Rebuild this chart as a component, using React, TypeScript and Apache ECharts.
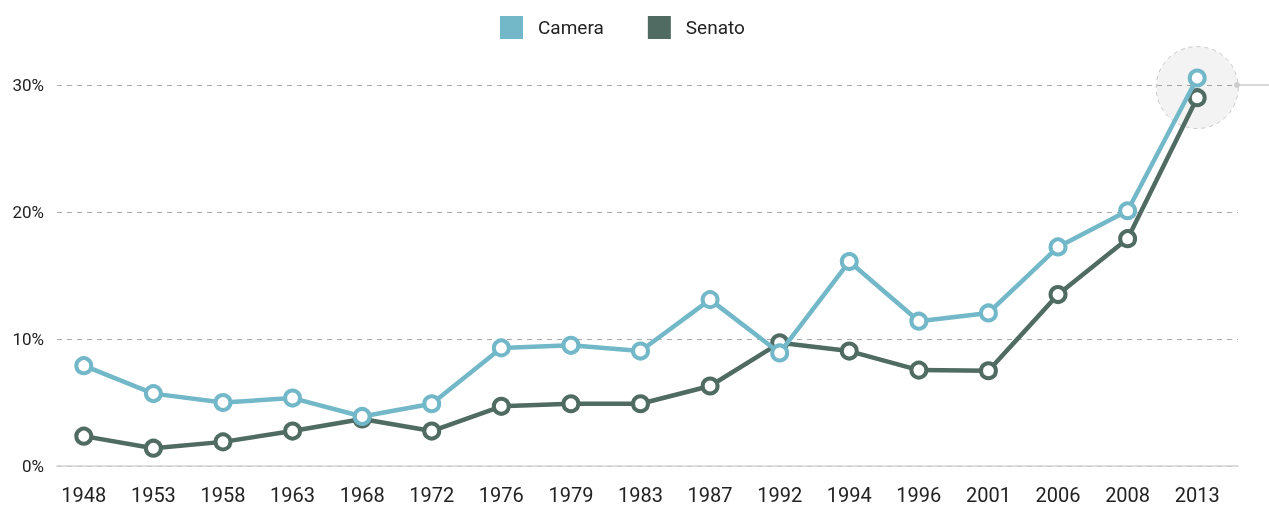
import React, { useEffect, useRef } from "react";
import * as echarts from "echarts";

const years = ["1948","1953","1958","1963","1968","1972","1976","1979","1983","1987","1992","1994","1996","2001","2006","2008","2013"];
const camera = [7.9, 5.7, 5.0, 5.35, 3.9, 4.9, 9.3, 9.5, 9.05, 13.1, 8.9, 16.1, 11.4, 12.05, 17.25, 20.1, 30.55];
const senato = [2.35, 1.4, 1.9, 2.75, 3.7, 2.75, 4.7, 4.9, 4.9, 6.3, 9.7, 9.05, 7.55, 7.5, 13.5, 17.9, 29.0];
const highlight = [["2013", 29.8]];

const FONT = "Roboto";
const CAM = "#72b8c8";
const SEN = "#4f6b62";

export default function App() {
  const ref = useRef<HTMLDivElement>(null);
  useEffect(() => {
    if (!ref.current) return;
    const chart = echarts.init(ref.current, null, { renderer: "svg" });
    chart.setOption({
      animation: false,
      textStyle: { fontFamily: FONT },
      legend: {
        top: 16,
        left: 500,
        padding: 0,
        itemWidth: 23,
        itemHeight: 23,
        itemGap: 44,
        icon: "rect",
        data: [
          { name: "Camera", itemStyle: { color: CAM, borderWidth: 0 } },
          { name: "Senato", itemStyle: { color: SEN, borderWidth: 0 } },
        ],
        textStyle: { fontSize: 19, color: "#222", fontFamily: FONT, padding: [0, 0, 0, 10] },
      },
      grid: [
        { left: 49, right: 37, top: 85, bottom: 40, outerBoundsMode: "none", containLabel: false },
        { left: 57, right: 31, top: 85, bottom: 40, outerBoundsMode: "none", containLabel: false },
      ],
      xAxis: [
        {
          type: "category",
          gridIndex: 0,
          data: years,
          boundaryGap: true,
          axisLine: { show: false },
          axisTick: { show: false },
          axisLabel: { fontSize: 20, color: "#222", margin: 19, fontFamily: FONT },
        },
        {
          type: "value",
          gridIndex: 1,
          min: 0,
          max: 1,
          axisLine: { show: true, onZero: false, lineStyle: { color: "#d4d4d4", width: 1.5 } },
          axisTick: { show: false },
          axisLabel: { show: false },
          splitLine: { show: false },
        },
      ],
      yAxis: [
        {
          type: "value",
          gridIndex: 0,
          min: 0,
          max: 30,
          interval: 10,
          axisLine: { show: false },
          axisTick: { show: false },
          axisLabel: { show: false },
          splitLine: { show: false },
        },
        {
          type: "value",
          gridIndex: 1,
          min: 0,
          max: 30,
          interval: 10,
          axisLine: { show: false },
          axisTick: { show: false },
          axisLabel: { fontSize: 17, color: "#222", formatter: "{value}%", margin: 13, fontFamily: FONT },
          splitLine: { lineStyle: { color: "#aaa", type: [5, 5], width: 1 } },
        },
      ],
      graphic: [
        { type: "line", shape: { x1: 1237, y1: 85, x2: 1269, y2: 85 }, style: { stroke: "#ccc", lineWidth: 1.5 }, z: 1 },
        { type: "circle", shape: { cx: 1237, cy: 85, r: 3 }, style: { fill: "#ccc" }, z: 1 },
      ],
      series: [
        {
          type: "scatter",
          xAxisIndex: 0,
          yAxisIndex: 0,
          data: highlight,
          symbolSize: 82,
          z: 0,
          silent: true,
          itemStyle: { color: "rgba(0,0,0,0.06)", borderColor: "#bbb", borderType: [4, 4], borderWidth: 1 },
        },
        {
          name: "Camera",
          type: "line",
          xAxisIndex: 0,
          yAxisIndex: 0,
          data: camera,
          clip: false,
          color: CAM,
          lineStyle: { width: 4.5, color: CAM },
          symbol: "circle",
          symbolSize: 15,
          itemStyle: { color: "#fff", borderColor: CAM, borderWidth: 4 },
          z: 3,
        },
        {
          name: "Senato",
          type: "line",
          xAxisIndex: 0,
          yAxisIndex: 0,
          data: senato,
          clip: false,
          color: SEN,
          lineStyle: { width: 4.5, color: SEN },
          symbol: "circle",
          symbolSize: 15,
          itemStyle: { color: "#fff", borderColor: SEN, borderWidth: 4 },
          z: 2,
        },
      ],
    });
    return () => chart.dispose();
  }, []);
  return <div ref={ref} style={{ position: "fixed", left: 0, top: 0, width: 1269, height: 506 }} />;
}
